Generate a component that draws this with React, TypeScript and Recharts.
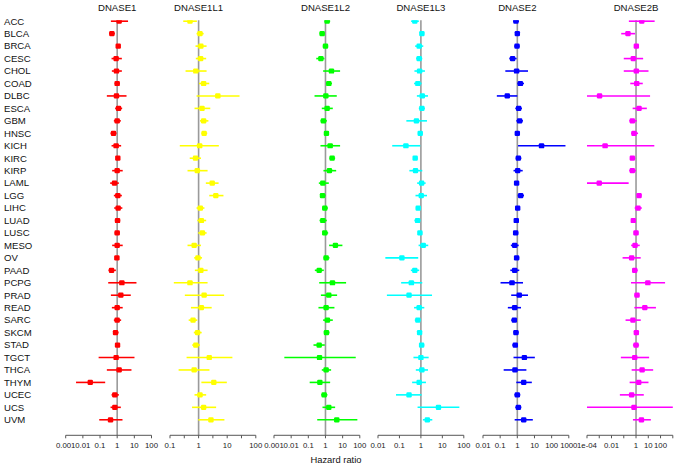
import React from 'react';
import { ScatterChart, Scatter, XAxis, YAxis, ErrorBar, ReferenceLine } from 'recharts';

// Cancer types, top to bottom
const cancers = [
  'ACC', 'BLCA', 'BRCA', 'CESC', 'CHOL', 'COAD', 'DLBC', 'ESCA', 'GBM', 'HNSC', 'KICH',
  'KIRC', 'KIRP', 'LAML', 'LGG', 'LIHC', 'LUAD', 'LUSC', 'MESO', 'OV', 'PAAD', 'PCPG',
  'PRAD', 'READ', 'SARC', 'SKCM', 'STAD', 'TGCT', 'THCA', 'THYM', 'UCEC', 'UCS', 'UVM',
];

// Hazard ratios with 95% CI
const dnase1HR = [1.3, 0.49, 1.15, 0.87, 0.91, 1.0, 0.91, 1.2, 1.0, 0.61, 0.87, 1.09, 1.0, 0.7, 1.09, 1.14, 1.05, 1.0, 1.0, 0.96, 0.47, 1.87, 1.63, 1.0, 1.0, 0.8, 1.05, 0.87, 1.3, 0.027, 0.73, 0.73, 0.41];
const dnase1Low = [0.43, 0.34, 0.93, 0.47, 0.49, 0.7, 0.25, 0.76, 0.64, 0.41, 0.47, 0.84, 0.51, 0.39, 0.64, 0.67, 0.73, 0.7, 0.51, 0.72, 0.31, 0.3, 0.43, 0.49, 0.64, 0.58, 0.76, 0.083, 0.25, 0.004, 0.47, 0.41, 0.09];
const dnase1High = [4.3, 0.73, 1.4, 1.87, 1.87, 1.43, 3.5, 1.95, 1.63, 0.91, 1.7, 1.43, 2.1, 1.25, 1.87, 2.0, 1.5, 1.43, 2.1, 1.3, 0.84, 13.3, 6.2, 2.1, 1.7, 1.2, 1.43, 10.2, 6.8, 0.2, 1.25, 1.63, 2.04];

const dnase1l1HR = [0.5, 1.12, 1.2, 1.18, 0.8, 1.5, 4.7, 1.32, 1.5, 1.56, 1.09, 0.78, 0.9, 3.0, 4.0, 1.15, 1.25, 1.36, 0.7, 0.95, 1.2, 0.5, 1.56, 1.25, 0.64, 0.92, 0.8, 2.36, 0.7, 3.4, 1.12, 1.5, 2.7];
const dnase1l1Low = [0.29, 0.85, 0.78, 0.8, 0.35, 1.03, 0.85, 0.72, 1.12, 1.25, 0.22, 0.49, 0.41, 1.79, 2.36, 0.85, 0.9, 0.97, 0.41, 0.7, 0.74, 0.136, 0.33, 0.54, 0.45, 0.68, 0.6, 0.38, 0.2, 1.25, 0.72, 0.59, 0.97];
const dnase1l1High = [0.87, 1.5, 1.9, 1.84, 1.9, 2.36, 27, 2.56, 2.2, 2.0, 5.1, 1.21, 2.06, 5.0, 7.4, 1.6, 1.84, 1.9, 1.21, 1.32, 2.06, 2.06, 7.8, 2.87, 0.9, 1.28, 1.12, 15.2, 2.4, 9.7, 1.84, 4.1, 8.0];

const dnase1l2HR = [1.25, 0.64, 1.0, 0.54, 2.23, 1.56, 1.05, 1.25, 0.76, 1.14, 1.87, 2.44, 1.7, 0.7, 0.67, 0.91, 0.7, 0.91, 3.8, 1.09, 0.43, 2.55, 1.56, 1.09, 1.3, 1.14, 0.43, 0.45, 1.09, 0.47, 0.84, 1.56, 4.55];
const dnase1l2Low = [0.88, 0.45, 0.7, 0.29, 0.73, 1.09, 0.23, 0.61, 0.51, 0.84, 0.51, 1.7, 0.76, 0.41, 0.49, 0.64, 0.45, 0.67, 1.63, 0.76, 0.24, 0.43, 0.54, 0.39, 0.73, 0.8, 0.2, 0.004, 0.61, 0.12, 0.56, 0.67, 0.33];
const dnase1l2High = [1.87, 0.91, 1.43, 0.87, 7.1, 2.4, 4.55, 2.67, 1.2, 1.56, 7.1, 3.65, 4.2, 1.56, 1.0, 1.37, 1.2, 1.43, 9.7, 1.7, 0.8, 15.9, 4.76, 3.33, 2.67, 1.7, 0.91, 58, 2.13, 1.87, 1.3, 3.65, 72];

const dnase1l3HR = [0.52, 1.11, 0.83, 0.83, 0.87, 0.72, 1.16, 1.11, 0.62, 0.93, 0.2, 0.54, 0.56, 1.08, 1.04, 0.75, 0.7, 0.9, 1.29, 0.13, 0.52, 0.36, 0.28, 0.83, 0.72, 0.87, 1.08, 1.0, 1.11, 0.83, 0.28, 6.6, 2.0];
const dnase1l3Low = [0.35, 0.9, 0.54, 0.6, 0.5, 0.48, 0.65, 0.8, 0.21, 0.72, 0.046, 0.43, 0.29, 0.67, 0.56, 0.58, 0.5, 0.72, 0.78, 0.022, 0.34, 0.12, 0.026, 0.48, 0.52, 0.7, 0.83, 0.45, 0.58, 0.39, 0.069, 0.7, 1.24];
const dnase1l3High = [0.8, 1.44, 1.29, 1.16, 1.54, 1.08, 2.14, 1.54, 1.92, 1.2, 0.93, 0.7, 1.16, 1.66, 1.92, 1.0, 0.96, 1.16, 2.2, 0.75, 0.83, 1.16, 3.3, 1.44, 1.0, 1.04, 1.44, 2.3, 2.14, 1.72, 1.08, 62, 3.4];

const dnase2HR = [0.83, 1.0, 0.96, 0.53, 0.91, 1.5, 0.26, 1.2, 1.37, 1.0, 25.8, 1.15, 1.05, 0.91, 1.57, 1.05, 0.87, 0.8, 0.7, 0.91, 0.7, 0.49, 1.3, 0.7, 0.67, 0.83, 0.76, 2.58, 0.73, 2.36, 1.0, 1.15, 2.36];
const dnase2Low = [0.57, 0.73, 0.67, 0.34, 0.2, 1.0, 0.064, 0.76, 0.87, 0.76, 1.1, 0.8, 0.6, 0.67, 1.05, 0.76, 0.64, 0.58, 0.42, 0.67, 0.39, 0.105, 0.44, 0.28, 0.44, 0.6, 0.51, 0.6, 0.16, 0.87, 0.67, 0.76, 0.7];
const dnase2High = [1.25, 1.37, 1.37, 0.91, 4.2, 2.46, 1.0, 1.88, 2.15, 1.3, 640, 1.72, 2.06, 1.25, 2.46, 1.43, 1.25, 1.15, 1.2, 1.3, 1.3, 2.15, 4.2, 1.64, 0.96, 1.2, 1.1, 10.5, 3.38, 7.0, 1.5, 1.72, 8.0];

const dnase2bHR = [2.94, 0.22, 1.06, 0.6, 1.06, 1.14, 0.00106, 1.77, 0.5, 0.68, 0.003, 0.5, 0.5, 0.001, 1.77, 1.46, 0.6, 1.0, 0.83, 0.44, 0.78, 9.2, 1.2, 5.2, 0.56, 1.06, 1.0, 0.78, 3.13, 1.66, 0.44, 0.68, 2.76];
const dnase2bLow = [0.26, 0.062, 0.73, 0.1, 0.1, 0.34, 0.0001, 0.53, 0.28, 0.4, 0.0001, 0.32, 0.28, 0.0001, 1.2, 0.78, 0.39, 0.64, 0.4, 0.08, 0.47, 0.39, 0.73, 0.73, 0.14, 0.68, 0.56, 0.058, 0.44, 0.3, 0.048, 0.0001, 0.56];
const dnase2bHigh = [33, 0.83, 1.56, 3.8, 10.4, 3.55, 14, 7.6, 1.14, 1.46, 31, 0.88, 1.0, 0.25, 2.76, 2.94, 0.94, 1.56, 2.0, 2.4, 1.37, 234, 1.88, 42, 2.43, 1.66, 1.77, 11.7, 25, 10.4, 4.3, 1000, 16.2];

// Axis ticks per panel (empty label = unlabelled tick)
const ticks1 = [0.001, 0.01, 0.1, 1, 10, 100];
const labels1 = ['0.001', '0.01', '0.1', '1', '10', '100'];
const ticks1L1 = [0.1, 0.316, 1, 3.16, 10, 31.6, 100];
const labels1L1 = ['0.1', '', '1', '', '10', '', '100'];
const ticks1L3 = [0.01, 0.1, 1, 10, 100];
const labels1L3 = ['0.01', '0.1', '1', '10', '100'];
const ticks2 = [0.01, 0.1, 1, 10, 100, 1000];
const labels2 = ['0.01', '0.1', '1', '10', '100', '1000'];
const ticks2B = [0.0001, 0.001, 0.01, 0.1, 1, 10, 100, 1000];
const labels2B = ['1e-04', '', '0.01', '', '1', '10', '100', ''];

const FONT = '"Liberation Sans", Arial, Helvetica, sans-serif';
const NARROW = '"Liberation Sans Narrow", "Liberation Sans", Arial, sans-serif';
const CHART_H = 467;
const PLOT_TOP = 20.3;
const AXIS_H = 31.7;
const PLOT_W = 85.8;
const PAD = 14;
const ROW_DOMAIN: [number, number] = [0.928, 34.246];
const rowTicks = cancers.map((_, i) => i + 1);

const panels = [
  { title: 'DNASE1', color: '#ff0000', hr: dnase1HR, lo: dnase1Low, hi: dnase1High, left: 65.7, domain: [0.001, 100], ticks: ticks1, labels: labels1 },
  { title: 'DNASE1L1', color: '#ffff00', hr: dnase1l1HR, lo: dnase1l1Low, hi: dnase1l1High, left: 170, domain: [0.1, 100], ticks: ticks1L1, labels: labels1L1 },
  { title: 'DNASE1L2', color: '#00ff00', hr: dnase1l2HR, lo: dnase1l2Low, hi: dnase1l2High, left: 274, domain: [0.001, 100], ticks: ticks1, labels: labels1 },
  { title: 'DNASE1L3', color: '#00ffff', hr: dnase1l3HR, lo: dnase1l3Low, hi: dnase1l3High, left: 378.2, domain: [0.01, 100], ticks: ticks1L3, labels: labels1L3 },
  { title: 'DNASE2', color: '#0000ff', hr: dnase2HR, lo: dnase2Low, hi: dnase2High, left: 483.2, domain: [0.01, 1000], ticks: ticks2, labels: labels2 },
  { title: 'DNASE2B', color: '#ff00ff', hr: dnase2bHR, lo: dnase2bLow, hi: dnase2bHigh, left: 586.7, domain: [0.0001, 1000], ticks: ticks2B, labels: labels2B },
];

const CancerTick = (props: any) => {
  const { y, payload } = props;
  return (
    <text x={4} y={y} dy="0.35em" textAnchor="start" fontSize={9.6} fontFamily={FONT} fill="#111">
      {cancers[payload.value - 1]}
    </text>
  );
};

function Panel({ p, first }: { p: (typeof panels)[number]; first: boolean }) {
  const data = p.hr.map((v, i) => ({
    row: i + 1,
    hr: v,
    err: [v - p.lo[i], p.hi[i] - v],
  }));
  const padL = first ? p.left : PAD;
  const chartLeft = p.left - padL;
  const width = padL + PLOT_W + PAD;

  return (
    <div style={{ position: 'absolute', left: chartLeft, top: 0 }}>
      <ScatterChart
        width={width}
        height={CHART_H}
        margin={{ top: PLOT_TOP, right: PAD, bottom: 0, left: first ? 0 : PAD }}
        style={{ overflow: 'visible' }}
      >
        <XAxis
          dataKey="hr"
          type="number"
          scale="log"
          domain={p.domain}
          allowDataOverflow
          ticks={p.ticks}
          interval={0}
          height={AXIS_H}
          tickFormatter={(v: number) => p.labels[p.ticks.indexOf(v)] ?? ''}
          tick={{ fontSize: 7.8, fill: '#222', fontFamily: NARROW }}
          tickSize={3}
          tickMargin={4}
          stroke="#555"
        />
        <YAxis
          dataKey="row"
          type="number"
          domain={ROW_DOMAIN}
          allowDataOverflow
          reversed
          hide={!first}
          width={first ? p.left : 0}
          ticks={rowTicks}
          interval={0}
          axisLine={false}
          tickLine={false}
          tick={<CancerTick />}
        />
        <ReferenceLine
          x={1}
          stroke="#9a9a9a"
          strokeWidth={1.6}
          label={{ value: p.title, position: 'top', offset: 9, fontSize: 9.6, fill: '#111', fontFamily: FONT }}
        />
        <Scatter
          data={data}
          fill={p.color}
          isAnimationActive={false}
          shape={(s: any) => (
            <rect x={s.cx - 2.7} y={s.cy - 2.6} width={5.4} height={5.2} rx={1.2} fill={p.color} />
          )}
        >
          <ErrorBar dataKey="err" direction="x" width={0} stroke={p.color} strokeWidth={1.6} isAnimationActive={false} />
        </Scatter>
      </ScatterChart>
    </div>
  );
}

export default function App() {
  return (
    <div style={{ position: 'absolute', left: 0, top: 0, width: 677, height: 467, background: '#fff', fontFamily: FONT }}>
      {panels.map((p, i) => (
        <Panel key={p.title} p={p} first={i === 0} />
      ))}
      <div
        style={{
          position: 'absolute',
          left: 0,
          width: 672,
          top: 453.5,
          textAlign: 'center',
          fontSize: 9.4,
          lineHeight: '11px',
          color: '#111',
        }}
      >
        Hazard ratio
      </div>
    </div>
  );
}
